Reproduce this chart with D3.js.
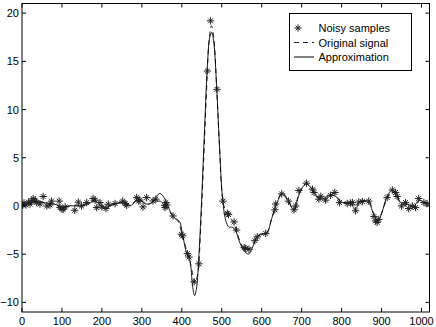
<!DOCTYPE html>
<html>
<head>
<meta charset="utf-8">
<script src="https://cdn.jsdelivr.net/npm/d3@7"></script>
<style>
  body { margin: 0; background: #fff; }
  svg { display: block; font-family: 'Liberation Sans', Arial, sans-serif; }
</style>
</head>
<body>
<svg id="chart" width="436" height="327"></svg>
<script>
// noisy samples (irregular positions)
const sampleX = [2, 5, 10, 16, 20, 24, 28, 33, 37, 45, 53, 62, 70, 74, 93, 95, 100, 103, 108, 132,
  141, 149, 162, 178, 183, 187, 195, 200, 210, 216, 233, 252, 258, 262, 287, 292, 295, 303, 312, 328,
  335, 357, 358, 360, 362, 378, 399, 402, 414, 418, 431, 443, 464, 472, 488, 503, 514, 517, 531, 537,
  556, 560, 568, 583, 589, 610, 633, 635, 650, 667, 681, 685, 693, 712, 727, 731, 743, 748, 760, 772,
  783, 795, 814, 822, 827, 835, 843, 852, 868, 881, 885, 889, 893, 914, 927, 935, 939, 950, 960, 968,
  977, 985, 993, 1006, 1014]
const sampleY = [0.07, 0.3, 0.1, 0.4, 0.2, 0.5, 0.77, 0.6, 0.35, 0.2, 0.98, 0.0, 0.1, 0.5, 0.5, -0.17, -0.3, -0.35, -0.1, -0.45,
  0.4, 0.0, 0.35, 0.77, 0.6, -0.17, 0.35, -0.1, -0.27, 0.18, 0.25, 0.5, 0.25, 0.07, 0.87, 0.5, 0.62, -0.1, 0.87, 0.52,
  0.7, 0.07, -0.17, 0.35, 0.1, -1.04, -2.94, -3.1, -4.95, -5.3, -7.87, -6.0, 14.0, 19.2, 12.1, 0.5, -0.76, -0.9, -1.66, -2.5,
  -4.33, -4.4, -4.5, -3.6, -3.2, -2.85, -0.4, 0.2, 1.25, 0.5, -0.4, 0.0, 1.6, 2.36, 1.74, 1.4, 0.7, 1.0, 0.6, 1.1,
  1.4, 0.35, 0.25, 0.3, 0.35, -0.5, 0.4, 0.45, 0.5, -1.1, -1.56, -1.7, -1.4, 0.87, 1.66, 1.4, 0.98, 0.0, 0.35, -0.27,
  0.0, -0.17, 0.77, 0.35, 0.25]

// original signal (dashed)
const signalX = [0, 20, 40, 60, 80, 100, 120, 140, 160, 180, 195, 210, 230, 255, 270, 290, 300, 315, 330, 345,
  355, 365, 378, 390, 400, 410, 420, 428, 433, 440, 447, 455, 462, 468, 474, 480, 487, 494, 502, 510,
  518, 528, 537, 545, 553, 562, 572, 582, 592, 605, 615, 625, 638, 650, 665, 680, 690, 700, 712, 727,
  742, 758, 772, 783, 795, 815, 835, 850, 868, 878, 887, 895, 905, 915, 927, 937, 947, 958, 970, 985,
  995, 1008, 1020]
const signalY = [0.1, 0.3, 0.5, 0.3, 0.2, -0.2, 0.0, 0.1, 0.2, 0.5, 0.1, -0.1, 0.2, 0.4, 0.1, 0.7, 0.5, 0.2, 0.4, 0.5,
  0.2, -0.3, -1.0, -1.5, -2.8, -4.3, -5.7, -7.2, -8.0, -7.0, -2.5, 5.0, 12.0, 17.0, 18.7, 17.5, 12.5, 6.5, 0.8, -0.6,
  -1.2, -1.6, -2.6, -3.6, -4.3, -4.5, -4.4, -3.7, -3.1, -2.9, -2.6, -1.3, 0.3, 1.3, 0.6, -0.4, 0.8, 1.8, 2.3, 1.7,
  0.8, 0.7, 1.1, 1.3, 0.5, 0.3, 0.1, 0.4, 0.5, -0.6, -1.5, -1.2, -0.2, 0.9, 1.6, 1.3, 0.3, 0.2, 0.0, -0.1,
  0.6, 0.3, 0.2]

// approximation (solid)
const approxX = [0, 15, 30, 45, 60, 80, 95, 105, 115, 150, 170, 182, 195, 210, 225, 245, 255, 270, 285, 295,
  305, 318, 330, 345, 358, 368, 378, 386, 394, 403, 412, 420, 427, 432, 437, 443, 450, 457, 464, 470,
  475, 480, 487, 494, 502, 510, 518, 526, 535, 545, 555, 567, 577, 588, 598, 612, 625, 640, 652, 665,
  680, 692, 700, 712, 725, 740, 755, 770, 785, 800, 820, 835, 845, 865, 880, 890, 900, 912, 925, 935,
  945, 955, 965, 980, 993, 1005, 1020]
const approxY = [0.0, 0.3, 0.5, 0.4, 0.3, 0.2, 0.0, -0.2, 0.0, 0.0, 0.3, 0.6, 0.1, -0.2, 0.1, 0.3, 0.45, 0.0, 0.5, 0.7,
  0.3, 0.2, 0.6, 1.3, 0.7, -0.3, -1.1, -1.4, -1.6, -3.2, -4.9, -5.6, -8.3, -9.3, -8.5, -5.0, 1.0, 8.0, 14.5, 17.5,
  18.0, 17.0, 12.5, 6.5, 0.8, -1.5, -2.2, -2.2, -2.6, -3.8, -4.6, -5.0, -4.3, -3.2, -2.9, -2.9, -1.3, 0.5, 1.3, 0.7,
  -0.4, 1.0, 1.8, 2.3, 1.8, 0.9, 0.8, 1.1, 1.0, 0.4, 0.3, -0.3, 0.4, 0.5, -0.8, -1.6, -0.8, 0.8, 1.6, 1.4,
  0.5, 0.1, 0.2, -0.1, 0.6, 0.4, 0.2]

const xTicks = [0, 100, 200, 300, 400, 500, 600, 700, 800, 900, 1000]
const yTicks = [-10, -5, 0, 5, 10, 15, 20]
const legendLabels = ['Noisy samples', 'Original signal', 'Approximation']

const svg = d3.select('#chart')
const box = { left: 22, right: 429.5, top: 3.5, bottom: 312 }

const x = d3.scaleLinear().domain([0, 1020]).range([box.left, box.right])
const y = d3.scaleLinear().domain([-11, 21]).range([box.bottom, box.top])

const plotW = box.right - box.left
const plotH = box.bottom - box.top

// clip so lines stay in the axes box
svg.append('defs').append('clipPath').attr('id', 'clip')
  .append('rect')
  .attr('x', box.left).attr('y', box.top)
  .attr('width', plotW).attr('height', plotH)

const line = d3.line()
  .x(d => x(d[0]))
  .y(d => y(d[1]))
  .curve(d3.curveCatmullRom.alpha(0.5))

const marks = svg.append('g').attr('clip-path', 'url(#clip)')

marks.append('path')
  .datum(d3.zip(signalX, signalY))
  .attr('d', line)
  .style('fill', 'none')
  .style('stroke', '#222')
  .style('stroke-width', 1)
  .style('stroke-dasharray', '5,4')

marks.append('path')
  .datum(d3.zip(approxX, approxY))
  .attr('d', line)
  .style('fill', 'none')
  .style('stroke', '#000')
  .style('stroke-width', 0.9)

// matlab style '*' marker: plus + times
const plusPath = d3.symbol(d3.symbolPlus, 20)()
const timesPath = d3.symbol(d3.symbolTimes, 17)()

function drawStar(g) {
  g.append('path').attr('d', plusPath)
  g.append('path').attr('d', timesPath)
  g.selectAll('path')
    .style('fill', 'none')
    .style('stroke', '#222')
    .style('stroke-width', 1)
}

marks.selectAll('.sample')
  .data(d3.zip(sampleX, sampleY))
  .enter()
  .append('g')
  .attr('class', 'sample')
  .attr('transform', d => `translate(${x(d[0])},${y(d[1])})`)
  .each(function () { drawStar(d3.select(this)) })

// axes box with inward ticks on all four sides
const axes = svg.append('g')

axes.append('rect')
  .attr('x', box.left).attr('y', box.top)
  .attr('width', plotW).attr('height', plotH)
  .style('fill', 'none')
  .style('stroke', '#000')
  .style('stroke-width', 1)

const tickLen = 4

xTicks.forEach(t => {
  axes.append('line')
    .attr('x1', x(t)).attr('x2', x(t))
    .attr('y1', box.bottom).attr('y2', box.bottom - tickLen)
    .style('stroke', '#000')
  axes.append('line')
    .attr('x1', x(t)).attr('x2', x(t))
    .attr('y1', box.top).attr('y2', box.top + tickLen)
    .style('stroke', '#000')
})

yTicks.forEach(t => {
  axes.append('line')
    .attr('x1', box.left).attr('x2', box.left + tickLen)
    .attr('y1', y(t)).attr('y2', y(t))
    .style('stroke', '#000')
  axes.append('line')
    .attr('x1', box.right).attr('x2', box.right - tickLen)
    .attr('y1', y(t)).attr('y2', y(t))
    .style('stroke', '#000')
})

axes.selectAll('.xlabel')
  .data(xTicks)
  .enter()
  .append('text')
  .attr('class', 'xlabel')
  .attr('x', d => x(d))
  .attr('y', box.bottom + 13)
  .style('text-anchor', 'middle')
  .style('font-size', '11px')
  .text(d => d)

axes.selectAll('.ylabel')
  .data(yTicks)
  .enter()
  .append('text')
  .attr('class', 'ylabel')
  .attr('x', box.left - 3)
  .attr('y', d => y(d) + 4)
  .style('text-anchor', 'end')
  .style('font-size', '11px')
  .text(d => d < 0 ? '\u2212' + Math.abs(d) : d)

// legend
const legend = svg.append('g').attr('class', 'legend')

legend.append('rect')
  .attr('x', 289.5).attr('y', 13.5)
  .attr('width', 122).attr('height', 57)
  .style('fill', '#fff')
  .style('stroke', '#000')
  .style('stroke-width', 1)

const rowY = [28, 42.5, 57]

legend.selectAll('.item')
  .data(legendLabels)
  .enter()
  .append('text')
  .attr('class', 'item')
  .attr('x', 318.5)
  .attr('y', (d, i) => rowY[i] + 4)
  .style('font-size', '11px')
  .text(d => d)

const starKey = legend.append('g').attr('transform', `translate(298,${rowY[0]})`)
drawStar(starKey)

legend.append('line')
  .attr('x1', 294).attr('x2', 314)
  .attr('y1', rowY[1]).attr('y2', rowY[1])
  .style('stroke', '#222')
  .style('stroke-dasharray', '5,4')

legend.append('line')
  .attr('x1', 294).attr('x2', 314)
  .attr('y1', rowY[2]).attr('y2', rowY[2])
  .style('stroke', '#000')
</script>
</body>
</html>
